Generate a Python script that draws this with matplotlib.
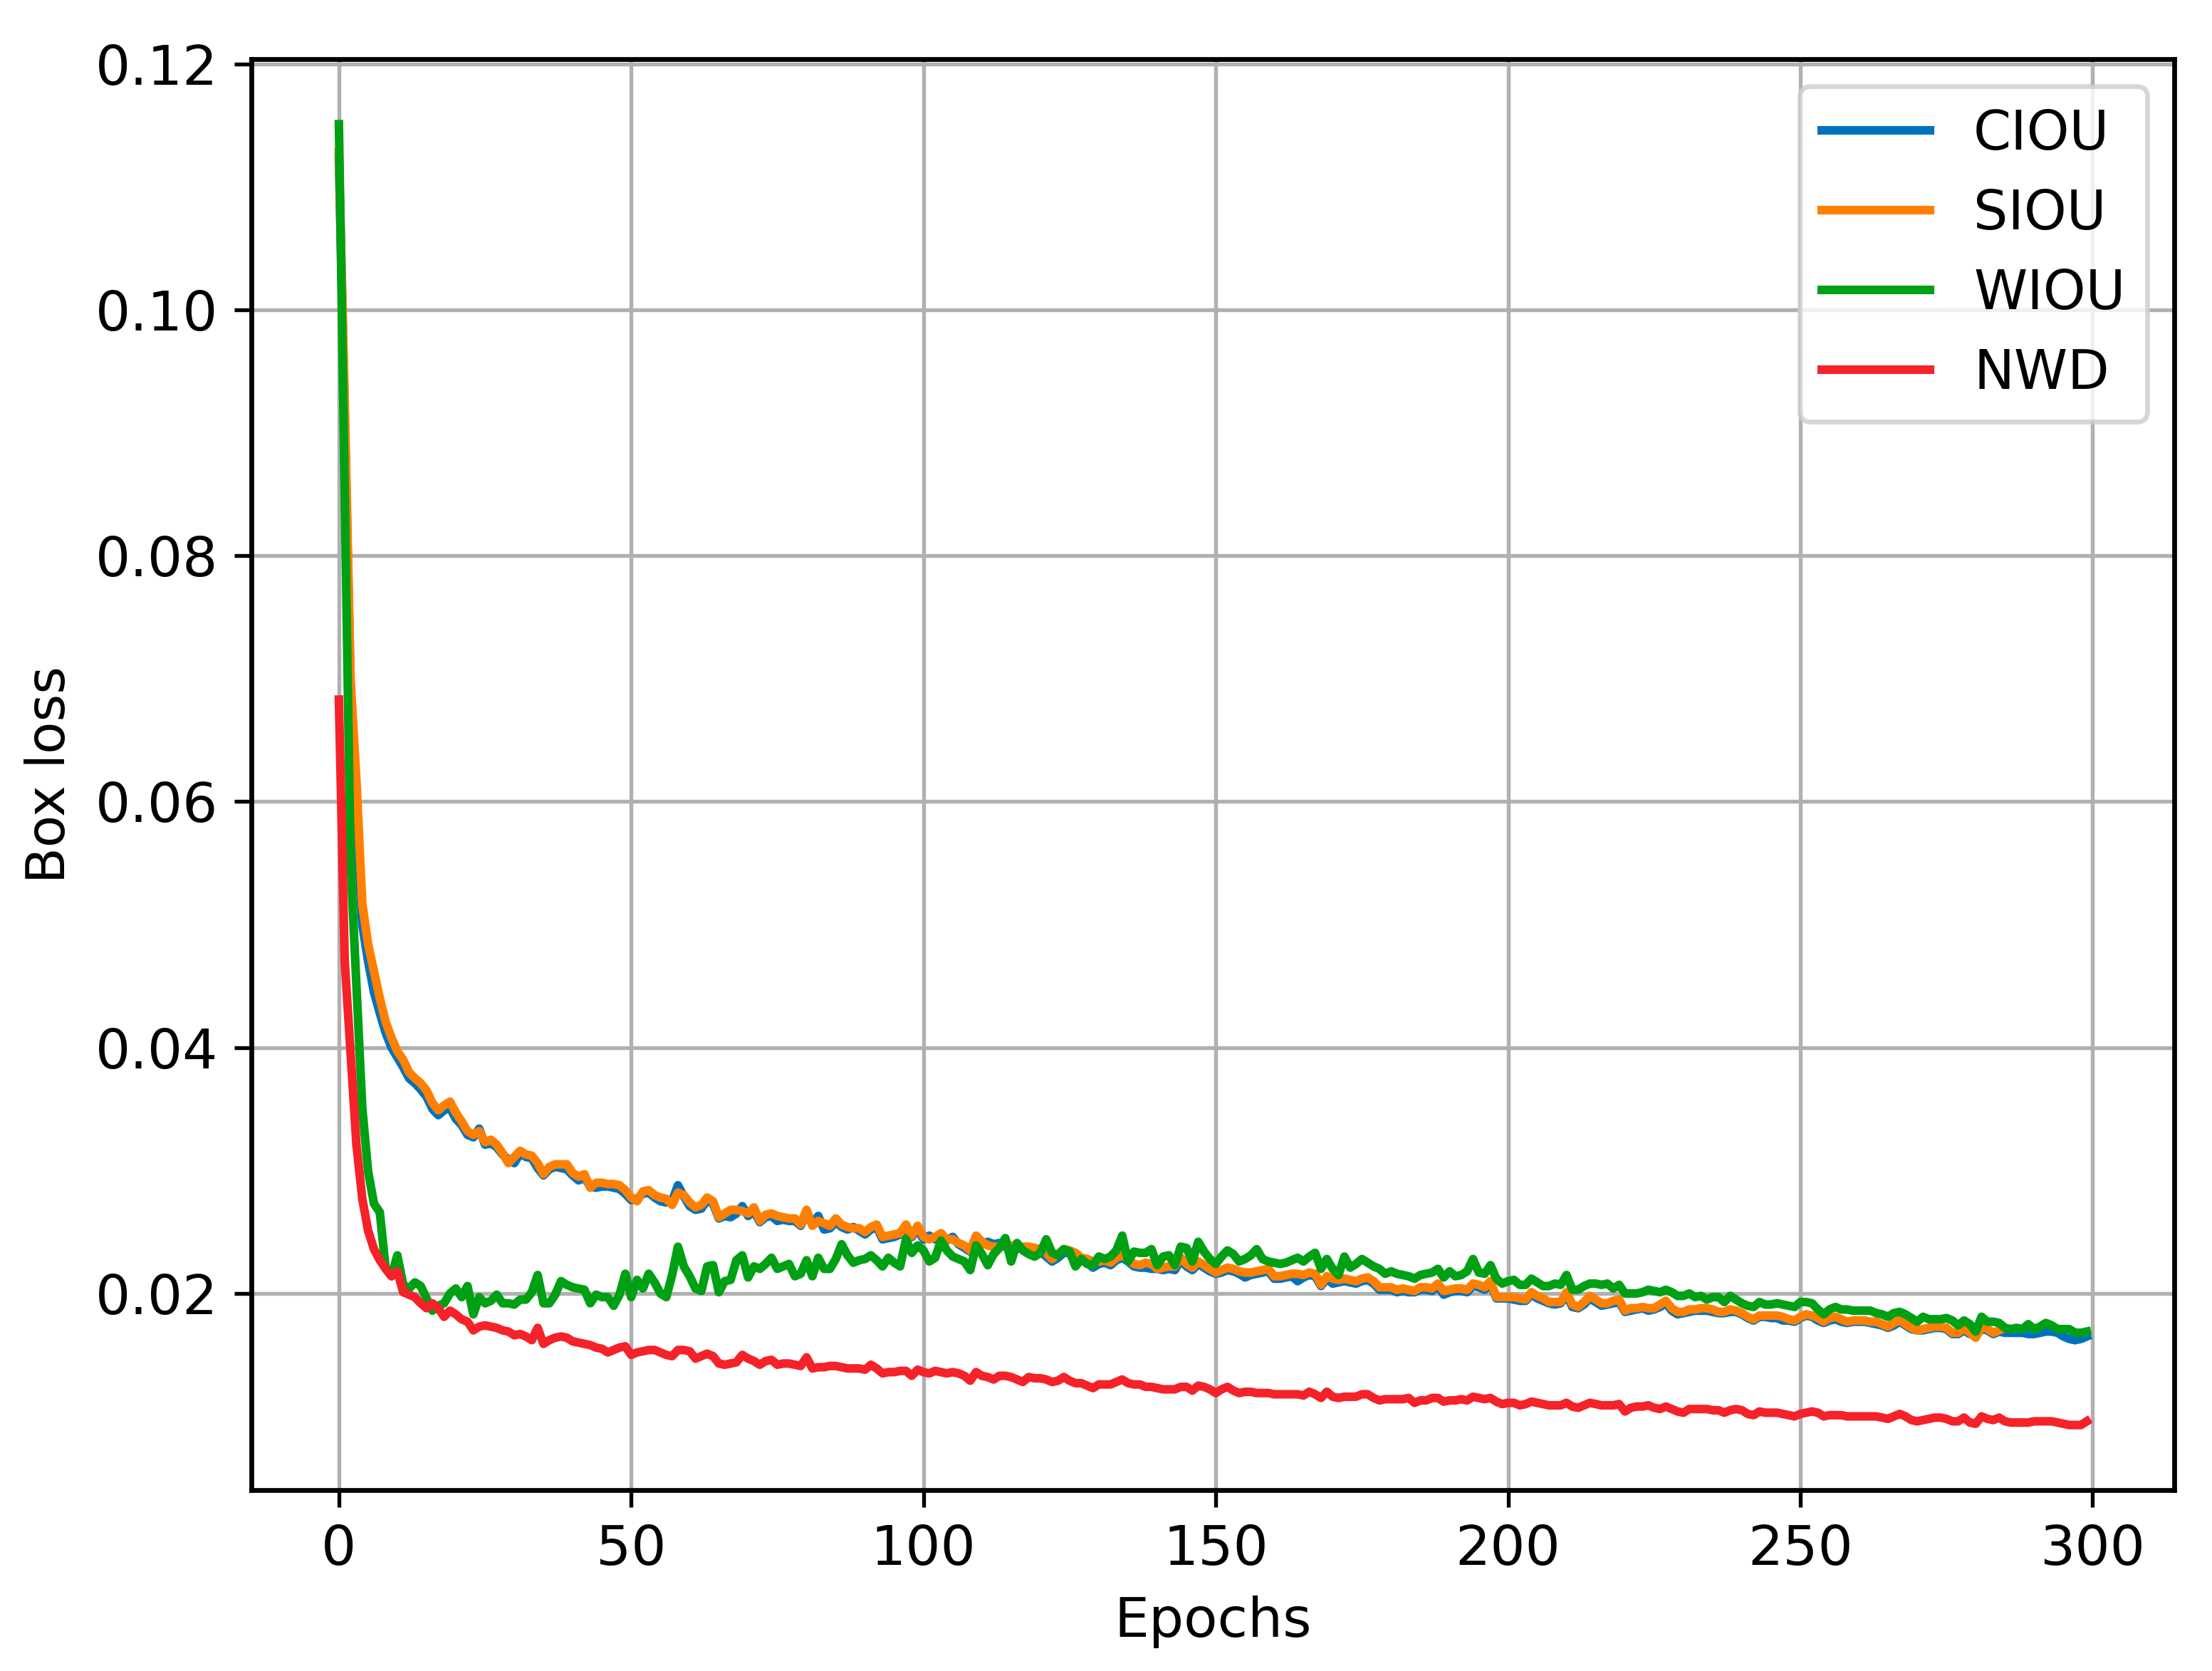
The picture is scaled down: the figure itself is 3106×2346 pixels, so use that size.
import matplotlib
matplotlib.use("Agg")
import matplotlib.pyplot as plt
import numpy as np

# box loss per epoch
ciou = [
    0.1122, 0.0915, 0.0690, 0.0585, 0.0500, 0.0470, 0.0445, 0.0428, 0.0412, 0.0400,
    0.0392, 0.0384, 0.0375, 0.0371, 0.0366, 0.0360, 0.0350, 0.0345, 0.0349, 0.0351,
    0.0342, 0.0337, 0.0329, 0.0327, 0.0334, 0.0321, 0.0322, 0.0319, 0.0313, 0.0309,
    0.0306, 0.0314, 0.0311, 0.0310, 0.0302, 0.0296, 0.0301, 0.0303, 0.0302, 0.0301,
    0.0296, 0.0292, 0.0294, 0.0287, 0.0286, 0.0287, 0.0287, 0.0286, 0.0285, 0.0281,
    0.0276, 0.0277, 0.0281, 0.0282, 0.0278, 0.0275, 0.0274, 0.0275, 0.0288, 0.0279,
    0.0271, 0.0268, 0.0269, 0.0276, 0.0273, 0.0261, 0.0263, 0.0262, 0.0265, 0.0271,
    0.0263, 0.0267, 0.0258, 0.0262, 0.0263, 0.0259, 0.0260, 0.0259, 0.0259, 0.0255,
    0.0266, 0.0257, 0.0263, 0.0252, 0.0253, 0.0258, 0.0254, 0.0252, 0.0254, 0.0251,
    0.0248, 0.0252, 0.0254, 0.0244, 0.0245, 0.0246, 0.0248, 0.0253, 0.0246, 0.0252,
    0.0244, 0.0247, 0.0244, 0.0246, 0.0243, 0.0246, 0.0240, 0.0237, 0.0234, 0.0245,
    0.0240, 0.0242, 0.0240, 0.0241, 0.0238, 0.0236, 0.0237, 0.0236, 0.0236, 0.0235,
    0.0234, 0.0230, 0.0226, 0.0229, 0.0233, 0.0233, 0.0231, 0.0228, 0.0225, 0.0221,
    0.0224, 0.0225, 0.0223, 0.0227, 0.0229, 0.0226, 0.0222, 0.0221, 0.0221, 0.0220,
    0.0220, 0.0219, 0.0220, 0.0219, 0.0227, 0.0222, 0.0219, 0.0224, 0.0221, 0.0218,
    0.0216, 0.0217, 0.0219, 0.0218, 0.0216, 0.0213, 0.0215, 0.0216, 0.0217, 0.0218,
    0.0212, 0.0212, 0.0213, 0.0214, 0.0210, 0.0213, 0.0215, 0.0214, 0.0206, 0.0212,
    0.0208, 0.0209, 0.0210, 0.0209, 0.0208, 0.0210, 0.0211, 0.0208, 0.0203, 0.0203,
    0.0203, 0.0201, 0.0202, 0.0201, 0.0201, 0.0203, 0.0203, 0.0202, 0.0206, 0.0199,
    0.0201, 0.0202, 0.0202, 0.0201, 0.0206, 0.0205, 0.0203, 0.0208, 0.0196, 0.0196,
    0.0196, 0.0195, 0.0194, 0.0194, 0.0199, 0.0196, 0.0194, 0.0192, 0.0191, 0.0192,
    0.0199, 0.0189, 0.0188, 0.0191, 0.0196, 0.0193, 0.0190, 0.0191, 0.0192, 0.0193,
    0.0185, 0.0186, 0.0187, 0.0188, 0.0186, 0.0187, 0.0189, 0.0192, 0.0186, 0.0183,
    0.0184, 0.0185, 0.0186, 0.0186, 0.0186, 0.0185, 0.0184, 0.0184, 0.0185, 0.0185,
    0.0183, 0.0180, 0.0178, 0.0181, 0.0181, 0.0180, 0.0180, 0.0178, 0.0178, 0.0177,
    0.0180, 0.0182, 0.0181, 0.0178, 0.0176, 0.0178, 0.0179, 0.0177, 0.0176, 0.0177,
    0.0177, 0.0177, 0.0176, 0.0175, 0.0174, 0.0172, 0.0174, 0.0177, 0.0174, 0.0171,
    0.0170, 0.0170, 0.0171, 0.0172, 0.0172, 0.0171, 0.0167, 0.0167, 0.0170, 0.0167,
    0.0166, 0.0171, 0.0170, 0.0167, 0.0169, 0.0168, 0.0168, 0.0168, 0.0168, 0.0167,
    0.0167, 0.0168, 0.0169, 0.0169, 0.0168, 0.0165, 0.0163, 0.0162, 0.0163, 0.0165,
]

# SIOU log stops at epoch 284
siou = [
    0.1128, 0.0925, 0.0700, 0.0617, 0.0517, 0.0484, 0.0462, 0.0440, 0.0421, 0.0408,
    0.0397, 0.0390, 0.0380, 0.0375, 0.0371, 0.0365, 0.0355, 0.0349, 0.0353, 0.0356,
    0.0347, 0.0340, 0.0332, 0.0329, 0.0332, 0.0323, 0.0325, 0.0321, 0.0314, 0.0306,
    0.0311, 0.0316, 0.0313, 0.0312, 0.0306, 0.0297, 0.0303, 0.0305, 0.0305, 0.0305,
    0.0298, 0.0295, 0.0297, 0.0286, 0.0290, 0.0290, 0.0289, 0.0289, 0.0288, 0.0284,
    0.0278, 0.0275, 0.0283, 0.0284, 0.0280, 0.0278, 0.0277, 0.0272, 0.0282, 0.0280,
    0.0274, 0.0270, 0.0272, 0.0278, 0.0275, 0.0262, 0.0265, 0.0268, 0.0268, 0.0267,
    0.0265, 0.0270, 0.0259, 0.0264, 0.0265, 0.0263, 0.0262, 0.0261, 0.0261, 0.0256,
    0.0268, 0.0255, 0.0259, 0.0257, 0.0255, 0.0261, 0.0256, 0.0254, 0.0253, 0.0253,
    0.0250, 0.0254, 0.0256, 0.0246, 0.0247, 0.0248, 0.0249, 0.0256, 0.0247, 0.0255,
    0.0246, 0.0244, 0.0246, 0.0249, 0.0244, 0.0244, 0.0241, 0.0239, 0.0235, 0.0247,
    0.0242, 0.0239, 0.0238, 0.0238, 0.0240, 0.0239, 0.0238, 0.0238, 0.0238, 0.0237,
    0.0236, 0.0233, 0.0228, 0.0232, 0.0236, 0.0235, 0.0233, 0.0229, 0.0228, 0.0226,
    0.0226, 0.0227, 0.0225, 0.0229, 0.0231, 0.0228, 0.0224, 0.0223, 0.0225, 0.0224,
    0.0220, 0.0221, 0.0222, 0.0222, 0.0229, 0.0224, 0.0221, 0.0226, 0.0223, 0.0220,
    0.0217, 0.0219, 0.0221, 0.0220, 0.0218, 0.0217, 0.0217, 0.0218, 0.0219, 0.0220,
    0.0214, 0.0214, 0.0215, 0.0216, 0.0216, 0.0215, 0.0217, 0.0216, 0.0207, 0.0214,
    0.0212, 0.0211, 0.0212, 0.0211, 0.0210, 0.0212, 0.0213, 0.0210, 0.0205, 0.0205,
    0.0205, 0.0203, 0.0204, 0.0203, 0.0202, 0.0205, 0.0205, 0.0204, 0.0208, 0.0202,
    0.0203, 0.0204, 0.0204, 0.0203, 0.0208, 0.0207, 0.0205, 0.0210, 0.0197, 0.0197,
    0.0197, 0.0197, 0.0196, 0.0195, 0.0201, 0.0198, 0.0196, 0.0193, 0.0193, 0.0193,
    0.0201, 0.0191, 0.0189, 0.0193, 0.0198, 0.0195, 0.0192, 0.0192, 0.0194, 0.0195,
    0.0186, 0.0188, 0.0188, 0.0189, 0.0188, 0.0188, 0.0191, 0.0194, 0.0188, 0.0185,
    0.0185, 0.0187, 0.0187, 0.0188, 0.0188, 0.0187, 0.0185, 0.0185, 0.0187, 0.0186,
    0.0184, 0.0181, 0.0179, 0.0182, 0.0182, 0.0182, 0.0182, 0.0181, 0.0179, 0.0178,
    0.0181, 0.0183, 0.0182, 0.0180, 0.0177, 0.0180, 0.0181, 0.0179, 0.0177, 0.0178,
    0.0178, 0.0178, 0.0177, 0.0177, 0.0175, 0.0173, 0.0176, 0.0178, 0.0175, 0.0172,
    0.0170, 0.0171, 0.0172, 0.0173, 0.0173, 0.0172, 0.0168, 0.0168, 0.0172, 0.0168,
    0.0164, 0.0173, 0.0171, 0.0168, 0.0170,
]

wiou = [
    0.1151, 0.0850, 0.0550, 0.0450, 0.0351, 0.0299, 0.0273, 0.0266, 0.0220, 0.0214,
    0.0231, 0.0207, 0.0204, 0.0209, 0.0206, 0.0196, 0.0186, 0.0190, 0.0192, 0.0200,
    0.0204, 0.0197, 0.0206, 0.0183, 0.0197, 0.0192, 0.0194, 0.0199, 0.0192, 0.0192,
    0.0191, 0.0195, 0.0195, 0.0201, 0.0215, 0.0192, 0.0192, 0.0199, 0.0210, 0.0207,
    0.0205, 0.0204, 0.0203, 0.0192, 0.0199, 0.0197, 0.0197, 0.0190, 0.0199, 0.0216,
    0.0197, 0.0211, 0.0204, 0.0216, 0.0209, 0.0200, 0.0197, 0.0215, 0.0238, 0.0222,
    0.0214, 0.0204, 0.0202, 0.0222, 0.0223, 0.0201, 0.0210, 0.0211, 0.0227, 0.0231,
    0.0213, 0.0222, 0.0220, 0.0224, 0.0229, 0.0220, 0.0222, 0.0224, 0.0214, 0.0216,
    0.0227, 0.0214, 0.0229, 0.0220, 0.0220, 0.0228, 0.0240, 0.0231, 0.0225, 0.0227,
    0.0228, 0.0231, 0.0227, 0.0222, 0.0229, 0.0225, 0.0222, 0.0244, 0.0233, 0.0239,
    0.0235, 0.0226, 0.0229, 0.0243, 0.0235, 0.0230, 0.0228, 0.0226, 0.0219, 0.0239,
    0.0232, 0.0223, 0.0232, 0.0237, 0.0245, 0.0226, 0.0241, 0.0235, 0.0232, 0.0230,
    0.0233, 0.0244, 0.0233, 0.0231, 0.0236, 0.0234, 0.0222, 0.0228, 0.0224, 0.0223,
    0.0230, 0.0228, 0.0230, 0.0235, 0.0247, 0.0226, 0.0234, 0.0233, 0.0233, 0.0236,
    0.0223, 0.0230, 0.0231, 0.0223, 0.0238, 0.0237, 0.0226, 0.0242, 0.0234, 0.0228,
    0.0224, 0.0230, 0.0235, 0.0232, 0.0226, 0.0228, 0.0231, 0.0236, 0.0228, 0.0226,
    0.0225, 0.0224, 0.0225, 0.0227, 0.0229, 0.0226, 0.0230, 0.0233, 0.0220, 0.0228,
    0.0220, 0.0215, 0.0230, 0.0221, 0.0224, 0.0228, 0.0225, 0.0222, 0.0220, 0.0216,
    0.0218, 0.0216, 0.0215, 0.0214, 0.0212, 0.0215, 0.0216, 0.0217, 0.0220, 0.0213,
    0.0218, 0.0214, 0.0215, 0.0218, 0.0228, 0.0217, 0.0216, 0.0223, 0.0212, 0.0208,
    0.0210, 0.0211, 0.0207, 0.0207, 0.0212, 0.0209, 0.0206, 0.0206, 0.0208, 0.0207,
    0.0215, 0.0203, 0.0203, 0.0206, 0.0208, 0.0208, 0.0207, 0.0208, 0.0204, 0.0207,
    0.0200, 0.0200, 0.0200, 0.0201, 0.0203, 0.0202, 0.0201, 0.0203, 0.0201, 0.0198,
    0.0198, 0.0200, 0.0197, 0.0198, 0.0195, 0.0197, 0.0197, 0.0193, 0.0198, 0.0195,
    0.0192, 0.0190, 0.0189, 0.0193, 0.0191, 0.0191, 0.0192, 0.0191, 0.0190, 0.0189,
    0.0193, 0.0193, 0.0192, 0.0187, 0.0183, 0.0187, 0.0189, 0.0187, 0.0187, 0.0186,
    0.0186, 0.0186, 0.0186, 0.0184, 0.0183, 0.0181, 0.0184, 0.0185, 0.0183, 0.0180,
    0.0177, 0.0181, 0.0179, 0.0179, 0.0179, 0.0180, 0.0178, 0.0174, 0.0178, 0.0175,
    0.0169, 0.0181, 0.0177, 0.0177, 0.0176, 0.0172, 0.0171, 0.0172, 0.0171, 0.0175,
    0.0171, 0.0173, 0.0176, 0.0174, 0.0171, 0.0171, 0.0171, 0.0168, 0.0168, 0.0169,
]

nwd = [
    0.0683, 0.0470, 0.0395, 0.0321, 0.0277, 0.0251, 0.0236, 0.0227, 0.0220, 0.0214,
    0.0218, 0.0201, 0.0199, 0.0197, 0.0192, 0.0188, 0.0192, 0.0188, 0.0181, 0.0186,
    0.0183, 0.0179, 0.0177, 0.0170, 0.0173, 0.0174, 0.0173, 0.0172, 0.0170, 0.0169,
    0.0166, 0.0167, 0.0165, 0.0162, 0.0172, 0.0159, 0.0162, 0.0164, 0.0165, 0.0164,
    0.0161, 0.0160, 0.0159, 0.0158, 0.0156, 0.0155, 0.0152, 0.0154, 0.0156, 0.0157,
    0.0150, 0.0152, 0.0153, 0.0154, 0.0154, 0.0152, 0.0150, 0.0149, 0.0154, 0.0154,
    0.0153, 0.0147, 0.0149, 0.0151, 0.0149, 0.0143, 0.0142, 0.0143, 0.0144, 0.0150,
    0.0147, 0.0145, 0.0142, 0.0145, 0.0146, 0.0142, 0.0143, 0.0143, 0.0142, 0.0141,
    0.0148, 0.0139, 0.0140, 0.0140, 0.0141, 0.0141, 0.0140, 0.0139, 0.0139, 0.0139,
    0.0138, 0.0142, 0.0139, 0.0135, 0.0136, 0.0136, 0.0137, 0.0137, 0.0133, 0.0138,
    0.0136, 0.0135, 0.0137, 0.0136, 0.0135, 0.0136, 0.0135, 0.0133, 0.0129, 0.0136,
    0.0133, 0.0132, 0.0130, 0.0133, 0.0133, 0.0132, 0.0130, 0.0128, 0.0132, 0.0131,
    0.0131, 0.0130, 0.0128, 0.0129, 0.0132, 0.0129, 0.0127, 0.0127, 0.0125, 0.0123,
    0.0126, 0.0126, 0.0126, 0.0128, 0.0130, 0.0127, 0.0126, 0.0126, 0.0124, 0.0124,
    0.0123, 0.0122, 0.0122, 0.0122, 0.0124, 0.0124, 0.0121, 0.0125, 0.0124, 0.0122,
    0.0119, 0.0122, 0.0124, 0.0121, 0.0119, 0.0120, 0.0120, 0.0119, 0.0119, 0.0119,
    0.0118, 0.0118, 0.0118, 0.0118, 0.0118, 0.0117, 0.0120, 0.0118, 0.0115, 0.0120,
    0.0116, 0.0115, 0.0116, 0.0116, 0.0116, 0.0118, 0.0118, 0.0115, 0.0113, 0.0114,
    0.0114, 0.0114, 0.0114, 0.0115, 0.0111, 0.0113, 0.0113, 0.0115, 0.0115, 0.0112,
    0.0113, 0.0113, 0.0114, 0.0113, 0.0116, 0.0115, 0.0114, 0.0115, 0.0112, 0.0110,
    0.0111, 0.0111, 0.0109, 0.0110, 0.0112, 0.0111, 0.0110, 0.0109, 0.0109, 0.0109,
    0.0111, 0.0108, 0.0107, 0.0109, 0.0111, 0.0110, 0.0109, 0.0109, 0.0109, 0.0110,
    0.0104, 0.0107, 0.0108, 0.0108, 0.0109, 0.0107, 0.0106, 0.0108, 0.0106, 0.0104,
    0.0103, 0.0106, 0.0106, 0.0106, 0.0106, 0.0105, 0.0105, 0.0103, 0.0105, 0.0106,
    0.0105, 0.0102, 0.0101, 0.0104, 0.0103, 0.0103, 0.0103, 0.0102, 0.0101, 0.0100,
    0.0102, 0.0103, 0.0104, 0.0103, 0.0100, 0.0101, 0.0101, 0.0101, 0.0100, 0.0100,
    0.0100, 0.0100, 0.0100, 0.0100, 0.0099, 0.0098, 0.0100, 0.0102, 0.0100, 0.0097,
    0.0096, 0.0097, 0.0098, 0.0099, 0.0099, 0.0098, 0.0096, 0.0096, 0.0099, 0.0095,
    0.0094, 0.0100, 0.0098, 0.0097, 0.0099, 0.0096, 0.0095, 0.0095, 0.0095, 0.0095,
    0.0096, 0.0096, 0.0096, 0.0096, 0.0095, 0.0094, 0.0093, 0.0093, 0.0093, 0.0096,
]

series = [
    ("CIOU", ciou, "#0072BD"),
    ("SIOU", siou, "#FF8000"),
    ("WIOU", wiou, "#00A014"),
    ("NWD", nwd, "#F5222A"),
]

fig = plt.figure(figsize=(3106 / 485, 2346 / 485), dpi=485)
ax = fig.add_axes([0.1137, 0.1083, 0.8692, 0.8563])

for name, vals, color in series:
    ax.plot(np.arange(len(vals)), vals, color=color, lw=1.8, label=name)

ax.grid(True, color="#b0b0b0", lw=0.8)
for sp in ax.spines.values():
    sp.set_linewidth(1.0)
ax.set_xticks([0, 50, 100, 150, 200, 250, 300])
ax.set_yticks([0.02, 0.04, 0.06, 0.08, 0.10, 0.12])
ax.tick_params(labelsize=11.5)
ax.set_xlabel("Epochs", fontsize=11.5)
ax.set_ylabel("Box loss", fontsize=11)
ax.legend(loc="upper right", fontsize=11.3, handletextpad=0.8)

fig.savefig("out.png", dpi=485)
